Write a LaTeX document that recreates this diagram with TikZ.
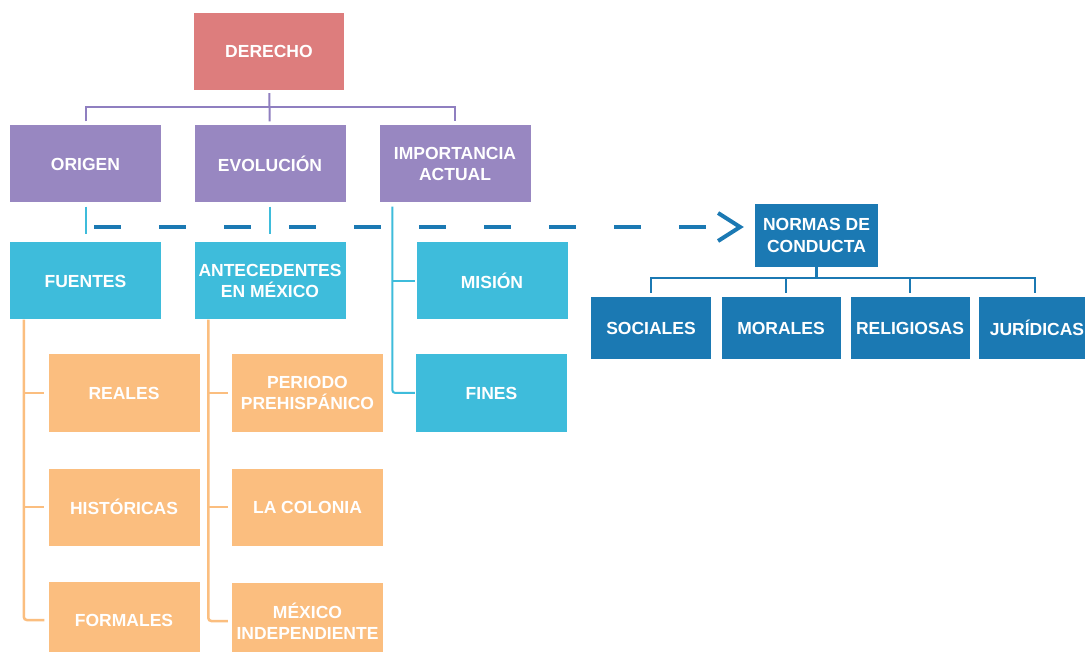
\documentclass[tikz,border=0pt]{standalone}
\usepackage{fontspec}
\setmainfont{Liberation Sans}
\usetikzlibrary{arrows.meta,calc}
\definecolor{cDer}{RGB}{221,125,125}
\definecolor{cPur}{RGB}{152,135,193}
\definecolor{cPurL}{RGB}{143,127,192}
\definecolor{cCya}{RGB}{62,188,219}
\definecolor{cOra}{RGB}{251,190,127}
\definecolor{cBlu}{RGB}{27,121,179}
\begin{document}
\begin{tikzpicture}[x=1pt,y=-1pt,
  nbox/.style={draw=none, inner sep=0pt, align=center, text=white,
    font=\bfseries\fontsize{17.5}{21.5}\selectfont},
  bigbox/.style={nbox, minimum width=151pt, minimum height=77pt},
  nrmbox/.style={nbox, fill=cBlu, minimum width=120pt, minimum height=62pt},
  pline/.style={draw=cPurL, line width=2pt},
  cline/.style={draw=cCya, line width=2pt},
  oline/.style={draw=cOra, line width=2.5pt},
  bline/.style={draw=cBlu, line width=2.5pt},
  dline/.style={draw=cBlu, line width=4pt, dash pattern=on 27pt off 38pt,
    shorten >=11pt, -{Straight Barb[length=22pt,width=28pt]}}
]
\fill[white] (0,0) rectangle (1085,652);
\useasboundingbox (0,0) rectangle (1085,652);

% top
\node[bigbox, fill=cDer, minimum width=150pt] (derecho) at (269,51.5) {DERECHO};
% second row
\node[bigbox, fill=cPur] (origen) at (85.5,164) {ORIGEN};
\node[bigbox, fill=cPur] (evol) at (270,164) {EVOLUCIÓN};
\node[bigbox, fill=cPur] (imp) at (455,164) {IMPORTANCIA\\ACTUAL};
% third row
\node[bigbox, fill=cCya] (fuentes) at (85.5,281) {FUENTES};
\node[bigbox, fill=cCya] (antec) at (270,281) {ANTECEDENTES\\EN MÉXICO};
\node[bigbox, fill=cCya] (mision) at (492,281) {MISIÓN};
\node[bigbox, fill=cCya] (fines) at (491.5,393) {FINES};
% orange
\node[bigbox, fill=cOra] (reales) at (124,393) {REALES};
\node[bigbox, fill=cOra] (hist) at (124,507) {HISTÓRICAS};
\node[bigbox, fill=cOra] (formales) at (124,620) {FORMALES};
\node[bigbox, fill=cOra] (periodo) at (307.5,393) {PERIODO\\PREHISPÁNICO};
\node[bigbox, fill=cOra] (colonia) at (307.5,507) {LA COLONIA};
\node[bigbox, fill=cOra] (indep) at (307.5,621) {MÉXICO\\INDEPENDIENTE};
% normas
\node[nbox, fill=cBlu, minimum width=123pt, minimum height=63pt] (normas) at (816.5,235.5) {NORMAS DE\\CONDUCTA};
\node[nrmbox] (sociales) at (651,328) {SOCIALES};
\node[nrmbox, minimum width=119pt] (morales) at (781,328) {MORALES};
\node[nrmbox, minimum width=119pt] (relig) at (910,328) {RELIGIOSAS};
\node[nrmbox, minimum width=116pt] (jurid) at (1037,328) {JURÍDICAS};

% connectors from DERECHO
\coordinate (bar) at (270,107);
\draw[pline, shorten <=3pt, shorten >=4pt] (derecho) -- (evol);
\draw[pline] ([yshift=4pt]origen.north) |- (bar) -| ([yshift=4pt]imp.north);

% short cyan ticks
\draw[cline, shorten <=4pt, shorten >=8pt] (origen) -- (fuentes);
\draw[cline, shorten <=4pt, shorten >=8pt] (evol) -- (antec);

% importancia branch
\coordinate (impv) at ([xshift=13pt,yshift=-4pt]imp.south west);
\draw[cline, rounded corners=3pt, shorten >=1pt] (impv) |- (fines.west);
\draw[cline, shorten >=1pt] (impv |- mision.west) -- (mision.west);

% orange branches
\coordinate (fuv) at ([xshift=14pt]fuentes.south west);
\draw[oline, rounded corners=3pt, shorten >=4pt] (fuv) |- (formales.west);
\draw[oline, shorten >=4pt] (fuv |- reales.west) -- (reales.west);
\draw[oline, shorten >=4pt] (fuv |- hist.west) -- (hist.west);
\coordinate (anv) at ([xshift=14pt]antec.south west);
\draw[oline, rounded corners=3pt, shorten >=4pt] (anv) |- (indep.west);
\draw[oline, shorten >=4pt] (anv |- periodo.west) -- (periodo.west);
\draw[oline, shorten >=4pt] (anv |- colonia.west) -- (colonia.west);

% dashed arrow
\coordinate (dstart) at (94,227);
\draw[dline] (dstart) -- (dstart -| normas.west);

% normas branches
\coordinate (nbar) at (816.5,278);
\draw[bline] (normas.south) -- (nbar);
\draw[bline] ([yshift=4pt]sociales.north) |- (nbar) -| ([xshift=-2pt,yshift=4pt]jurid.north);
\draw[bline] ([xshift=5pt]morales.north |- nbar) -- ([xshift=5pt,yshift=4pt]morales.north);
\draw[bline] (relig.north |- nbar) -- ([yshift=4pt]relig.north);
\end{tikzpicture}
\end{document}
